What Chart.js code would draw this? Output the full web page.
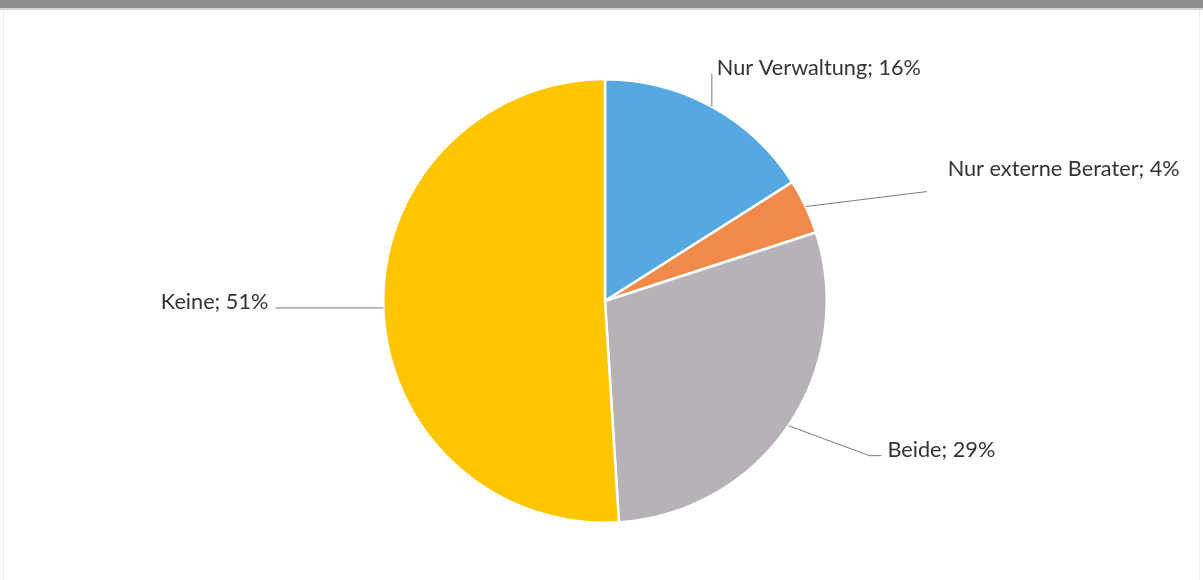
<!DOCTYPE html>
<html>
<head>
<meta charset="utf-8">
<script src="https://cdn.jsdelivr.net/npm/chart.js@4.4.1/dist/chart.umd.min.js"></script>
<style>
    html, body { margin: 0; padding: 0; background: #fff; }
    #wrap { position: relative; width: 1203px; height: 580px; overflow: hidden; }
    #topBar { position: absolute; left: 0; top: 0; width: 1203px; height: 8px; background: #8c8c8c; border-bottom: 2px solid #d4d4d4; }
    #edgeL { position: absolute; left: 3px; top: 10px; width: 1px; height: 570px; background: #ececec; }
    #edgeR { position: absolute; left: 1199px; top: 10px; width: 1px; height: 570px; background: #ececec; }
    canvas { position: absolute; left: 0; top: 0; }
</style>
</head>
<body>
<div id="wrap">
    <canvas id="chartPie" width="1203" height="580"></canvas>
    <div id="topBar"></div>
    <div id="edgeL"></div>
    <div id="edgeR"></div>
</div>
<script>
const kategorien = ["Nur Verwaltung", "Nur externe Berater", "Beide", "Keine"];
const anteile = [16, 4, 29, 51];
const farben = ["#55a8e0", "#f08a4b", "#b6b2b7", "#ffc600"];

// label placement relative to the point on the arc at the slice middle
const labelLayout = [
    { path: [[0, -33]], text: [5, -39], align: "left" },
    { path: [[121, -15]], text: [142, -38], align: "left" },
    { path: [[81, 30], [93, 30]], text: [99, 24], align: "left" },
    { path: [[-108, 0]], text: [-115, -6], align: "right" }
];

const leaderLabels = {
    id: "leaderLabels",
    afterDatasetsDraw(chart) {
        const ctx = chart.ctx;
        const meta = chart.getDatasetMeta(0);
        ctx.save();
        meta.data.forEach((arc, i) => {
            const p = arc.getProps(["x", "y", "startAngle", "endAngle", "outerRadius"], true);
            const mid = (p.startAngle + p.endAngle) / 2;
            const ax = p.x + Math.cos(mid) * p.outerRadius;
            const ay = p.y + Math.sin(mid) * p.outerRadius;
            const l = labelLayout[i];

            ctx.strokeStyle = "#7a7a7a";
            ctx.lineWidth = 1;
            ctx.beginPath();
            ctx.moveTo(ax, ay);
            l.path.forEach(pt => ctx.lineTo(ax + pt[0], ay + pt[1]));
            ctx.stroke();

            ctx.fillStyle = "#333333";
            ctx.font = "21.7px Lato";
            ctx.textAlign = l.align;
            ctx.textBaseline = "middle";
            ctx.fillText(kategorien[i] + "; " + anteile[i] + "%", ax + l.text[0], ay + l.text[1]);
        });
        ctx.restore();
    }
};

new Chart(document.getElementById("chartPie"), {
    type: "pie",
    data: {
        labels: kategorien,
        datasets: [{
            data: anteile,
            backgroundColor: farben,
            borderColor: "#ffffff",
            borderWidth: 2.5
        }]
    },
    options: {
        responsive: false,
        animation: false,
        layout: { padding: { left: 382, right: 375, top: 78, bottom: 56 } },
        plugins: {
            legend: { display: false },
            tooltip: { enabled: false }
        }
    },
    plugins: [leaderLabels]
});
</script>
</body>
</html>
